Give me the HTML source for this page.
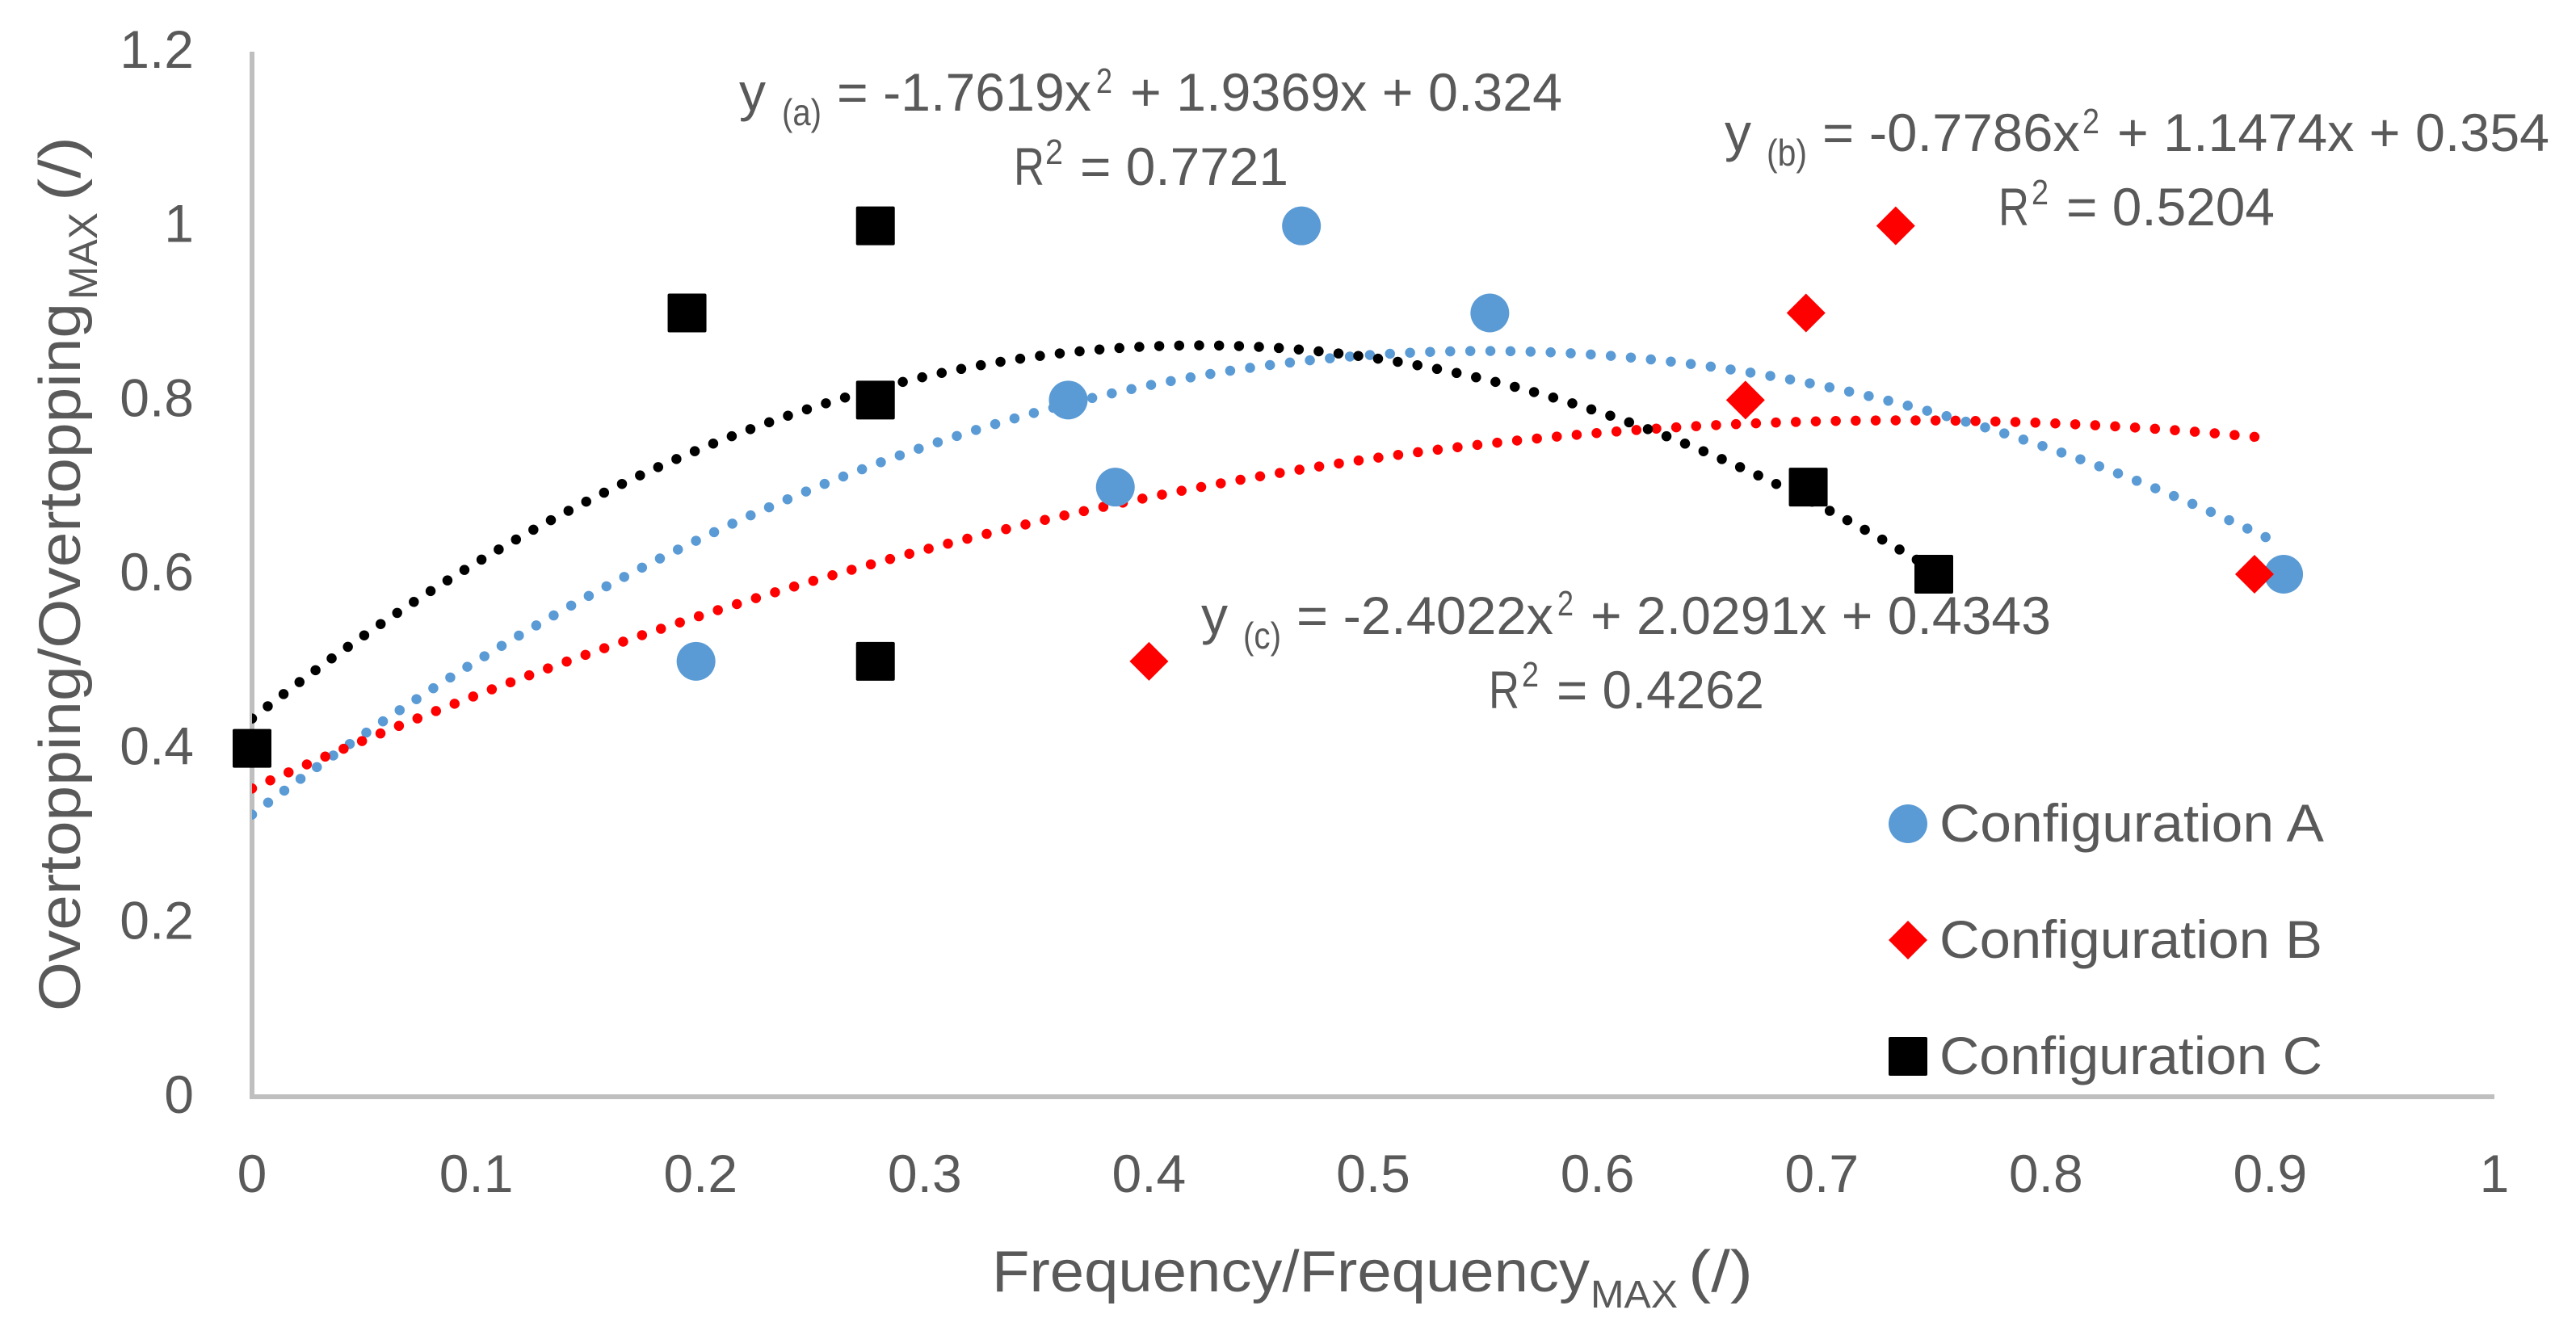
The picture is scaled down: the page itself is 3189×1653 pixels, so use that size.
<!DOCTYPE html>
<html lang="en">
<head>
<meta charset="utf-8">
<title>Overtopping vs Frequency</title>
<style>
  html, body { margin: 0; padding: 0; background: #ffffff; }
  svg { display: block; }
  text { font-family: "Liberation Sans", Arial, sans-serif; fill: #595959; }
</style>
</head>
<body>
<svg id="chart" xmlns="http://www.w3.org/2000/svg" width="3189" height="1653" viewBox="0 0 3189 1653">
  <rect x="0" y="0" width="3189" height="1653" fill="#ffffff"/>
  <defs>
    <clipPath id="plot-clip"><rect x="312" y="0" width="2877" height="1653"/></clipPath>
  </defs>

  <g id="axes"></g>
  <g id="trendlines" clip-path="url(#plot-clip)"></g>
  <g id="markers"></g>

  <g>
    <text transform="translate(99,1252) rotate(-90)" font-size="72" textLength="877" lengthAdjust="spacingAndGlyphs">Overtopping/Overtopping</text>
    <text transform="translate(120,371) rotate(-90)" font-size="50" textLength="108" lengthAdjust="spacingAndGlyphs">MAX</text>
    <text transform="translate(99,249) rotate(-90)" font-size="72" textLength="80" lengthAdjust="spacingAndGlyphs">(/)</text>
  </g>

  <g>
    <text x="1228" y="1599" font-size="72" textLength="740" lengthAdjust="spacingAndGlyphs">Frequency/Frequency</text>
    <text x="1969" y="1619" font-size="48" textLength="108" lengthAdjust="spacingAndGlyphs">MAX</text>
    <text x="2090" y="1599" font-size="72" textLength="80" lengthAdjust="spacingAndGlyphs">(/)</text>
  </g>

  <g>
    <text x="915" y="137" font-size="66" textLength="33" lengthAdjust="spacingAndGlyphs">y</text>
    <text x="968" y="155" font-size="46" textLength="49" lengthAdjust="spacingAndGlyphs">(a)</text>
    <text x="1036" y="137" font-size="66" textLength="315" lengthAdjust="spacingAndGlyphs">= -1.7619x</text>
    <text x="1357" y="115" font-size="44" textLength="20" lengthAdjust="spacingAndGlyphs">2</text>
    <text x="1399" y="137" font-size="66" textLength="535" lengthAdjust="spacingAndGlyphs">+ 1.9369x + 0.324</text>
  </g>
  <g>
    <text x="1255" y="229" font-size="66" textLength="38" lengthAdjust="spacingAndGlyphs">R</text>
    <text x="1294" y="203" font-size="44" textLength="22" lengthAdjust="spacingAndGlyphs">2</text>
    <text x="1337" y="229" font-size="66" textLength="258" lengthAdjust="spacingAndGlyphs">= 0.7721</text>
  </g>

  <g>
    <text x="2135" y="187" font-size="66" textLength="33" lengthAdjust="spacingAndGlyphs">y</text>
    <text x="2187" y="205" font-size="46" textLength="50" lengthAdjust="spacingAndGlyphs">(b)</text>
    <text x="2256" y="187" font-size="66" textLength="319" lengthAdjust="spacingAndGlyphs">= -0.7786x</text>
    <text x="2578" y="165" font-size="44" textLength="21" lengthAdjust="spacingAndGlyphs">2</text>
    <text x="2621" y="187" font-size="66" textLength="535" lengthAdjust="spacingAndGlyphs">+ 1.1474x + 0.354</text>
  </g>
  <g>
    <text x="2474" y="279" font-size="66" textLength="38" lengthAdjust="spacingAndGlyphs">R</text>
    <text x="2515" y="253" font-size="44" textLength="21" lengthAdjust="spacingAndGlyphs">2</text>
    <text x="2558" y="279" font-size="66" textLength="258" lengthAdjust="spacingAndGlyphs">= 0.5204</text>
  </g>

  <g>
    <text x="1487" y="785" font-size="66" textLength="33" lengthAdjust="spacingAndGlyphs">y</text>
    <text x="1539" y="803" font-size="46" textLength="47" lengthAdjust="spacingAndGlyphs">(c)</text>
    <text x="1605" y="785" font-size="66" textLength="318" lengthAdjust="spacingAndGlyphs">= -2.4022x</text>
    <text x="1928" y="762" font-size="44" textLength="20" lengthAdjust="spacingAndGlyphs">2</text>
    <text x="1969" y="785" font-size="66" textLength="570" lengthAdjust="spacingAndGlyphs">+ 2.0291x + 0.4343</text>
  </g>
  <g>
    <text x="1843" y="877" font-size="66" textLength="38" lengthAdjust="spacingAndGlyphs">R</text>
    <text x="1884" y="850" font-size="44" textLength="21" lengthAdjust="spacingAndGlyphs">2</text>
    <text x="1927" y="877" font-size="66" textLength="257" lengthAdjust="spacingAndGlyphs">= 0.4262</text>
  </g>

  <g>
    <g>
      <circle cx="2362" cy="1020" r="24" fill="#5b9bd5"/>
      <text x="2401" y="1042" font-size="66" textLength="476" lengthAdjust="spacingAndGlyphs">Configuration A</text>
    </g>
    <g>
      <polygon points="2362,1140 2386,1164 2362,1188 2338,1164" fill="#ff0000"/>
      <text x="2401" y="1186" font-size="66" textLength="474" lengthAdjust="spacingAndGlyphs">Configuration B</text>
    </g>
    <g>
      <rect x="2338" y="1284" width="48" height="48" rx="2" fill="#000000"/>
      <text x="2401" y="1330" font-size="66" textLength="474" lengthAdjust="spacingAndGlyphs">Configuration C</text>
    </g>
  </g>
</svg>

<script>
// Axis tick labels
const xTickLabels = ['0', '0.1', '0.2', '0.3', '0.4', '0.5', '0.6', '0.7', '0.8', '0.9', '1'];
const yTickLabels = ['0', '0.2', '0.4', '0.6', '0.8', '1', '1.2'];

// Configuration A points
const seriesAX = [0, 0.198, 0.364, 0.385, 0.468, 0.552, 0.906];
const seriesAY = [0.4, 0.5, 0.8, 0.7, 1, 0.9, 0.6];

// Configuration B points
const seriesBX = [0, 0.4, 0.666, 0.693, 0.733, 0.893];
const seriesBY = [0.4, 0.5, 0.8, 0.9, 1, 0.6];

// Configuration C points
const seriesCX = [0, 0.194, 0.278, 0.278, 0.278, 0.694, 0.75];
const seriesCY = [0.4, 0.9, 1, 0.8, 0.5, 0.7, 0.6];

// Printed trendline coefficients [x^2, x, constant]
const trendA = [-1.7619, 1.9369, 0.324];
const trendB = [-0.7786, 1.1474, 0.354];
const trendC = [-2.4022, 2.0291, 0.4343];

const SVG_NS = 'http://www.w3.org/2000/svg';
const xLeft = 312, xRight = 3088, yBottom = 1358, yTop = 64;
const xMaxDomain = 1, yMaxDomain = 1.2;
function xScale(v) { return xLeft + (v / xMaxDomain) * (xRight - xLeft); }
function yScale(v) { return yBottom - (v / yMaxDomain) * (yBottom - yTop); }

const axes = document.getElementById('axes');
const trendGroup = document.getElementById('trendlines');
const markerGroup = document.getElementById('markers');

function make(tag, attrs) {
  const el = document.createElementNS(SVG_NS, tag);
  for (const k in attrs) el.setAttribute(k, attrs[k]);
  return el;
}

// Axis lines
const yAxisLine = make('line', { x1: xLeft, y1: yTop, x2: xLeft, y2: yBottom + 3, stroke: '#bfbfbf', 'stroke-width': 6 });


axes.appendChild(yAxisLine);

const xAxisLine = make('line', { x1: xLeft, y1: yBottom, x2: xRight, y2: yBottom, stroke: '#bfbfbf', 'stroke-width': 6 });


axes.appendChild(xAxisLine);

// Tick labels
xTickLabels.forEach(function (label) {
  const t = make('text', { x: xScale(parseFloat(label)), y: 1476, 'font-size': 66, 'text-anchor': 'middle' });
  t.textContent = label;
  
  
  axes.appendChild(t);
});
yTickLabels.forEach(function (label) {
  const t = make('text', { x: 240, y: yScale(parseFloat(label)) + 20, 'font-size': 66, 'text-anchor': 'end' });
  t.textContent = label;
  
  
  axes.appendChild(t);
});

// Trendlines: dotted parabolas spanning each series' x extent
function trendPath(coef, xs) {
  const lo = Math.min.apply(null, xs), hi = Math.max.apply(null, xs);
  const n = 200;
  let d = '';
  for (let i = 0; i <= n; i++) {
    const x = lo + (hi - lo) * i / n;
    const y = coef[0] * x * x + coef[1] * x + coef[2];
    d += (i ? 'L' : 'M') + xScale(x).toFixed(2) + ' ' + yScale(y).toFixed(2);
  }
  return d;
}
function dottedLine(coef, xs, color) {
  return make('path', {
    d: trendPath(coef, xs), fill: 'none', stroke: color, 'stroke-width': 12.5,
    'stroke-linecap': 'round', 'stroke-dasharray': '0 24.8'
  });
}
// Fit the dot spacing so a dot lands on the end of the line
function fitDots(path) {
  const len = path.getTotalLength();
  const gap = len / Math.round(len / 24.8);
  path.setAttribute('stroke-dasharray', '0 ' + gap.toFixed(3));
}

const trendLineA = dottedLine(trendA, seriesAX, '#5b9bd5');


trendGroup.appendChild(trendLineA);
fitDots(trendLineA);

const trendLineB = dottedLine(trendB, seriesBX, '#ff0000');


trendGroup.appendChild(trendLineB);
fitDots(trendLineB);

const trendLineC = dottedLine(trendC, seriesCX, '#000000');


trendGroup.appendChild(trendLineC);
fitDots(trendLineC);

// Markers
const markerHalf = 24;
seriesAX.forEach(function (v, i) {
  const c = make('circle', { cx: xScale(v), cy: yScale(seriesAY[i]), r: markerHalf, fill: '#5b9bd5' });
  
  
  markerGroup.appendChild(c);
});
seriesBX.forEach(function (v, i) {
  const cx = xScale(v), cy = yScale(seriesBY[i]);
  const p = make('polygon', {
    points: cx + ',' + (cy - markerHalf) + ' ' + (cx + markerHalf) + ',' + cy + ' ' + cx + ',' + (cy + markerHalf) + ' ' + (cx - markerHalf) + ',' + cy,
    fill: '#ff0000'
  });
  
  
  markerGroup.appendChild(p);
});
seriesCX.forEach(function (v, i) {
  const r = make('rect', {
    x: xScale(v) - markerHalf, y: yScale(seriesCY[i]) - markerHalf,
    width: markerHalf * 2, height: markerHalf * 2, rx: 2, fill: '#000000'
  });
  
  
  markerGroup.appendChild(r);
});
</script>
</body>
</html>
